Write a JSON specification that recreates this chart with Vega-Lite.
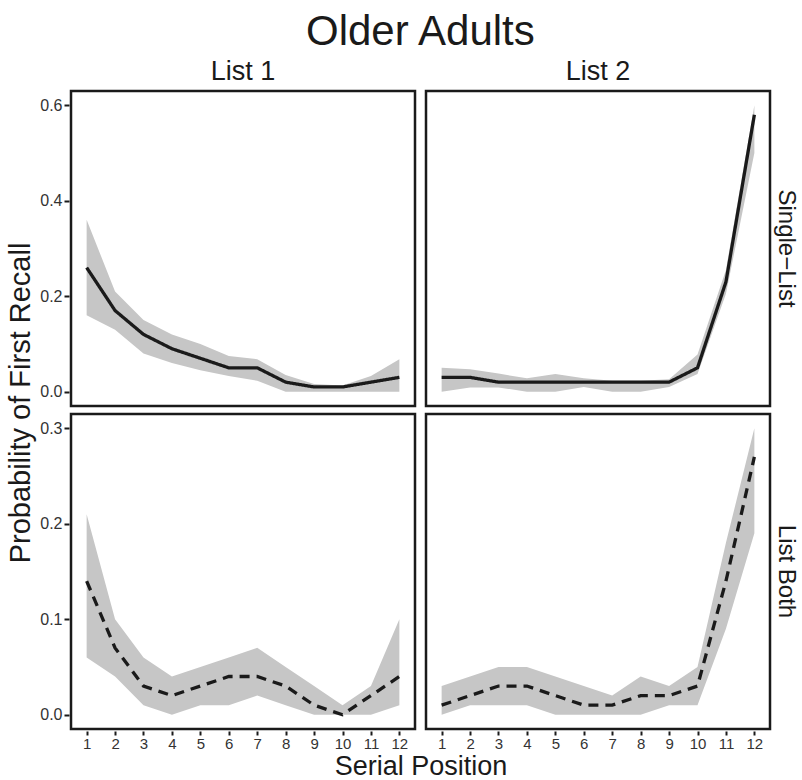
{
  "$schema": "https://vega.github.io/schema/vega-lite/v6.json",
  "background": "white",
  "padding": {"left": 6, "top": 11, "right": 0, "bottom": 0},
  "title": {"text": "Older Adults", "fontSize": 42, "fontWeight": "normal", "color": "#1a1a1a", "anchor": "middle", "offset": 4, "dx": 18},
  "datasets": {"recall": [
    {"list": "List 1", "condition": "Single−List", "pos": 1, "p": 0.26, "lo": 0.16, "hi": 0.36},
    {"list": "List 1", "condition": "Single−List", "pos": 2, "p": 0.17, "lo": 0.13, "hi": 0.21},
    {"list": "List 1", "condition": "Single−List", "pos": 3, "p": 0.12, "lo": 0.08, "hi": 0.15},
    {"list": "List 1", "condition": "Single−List", "pos": 4, "p": 0.09, "lo": 0.06, "hi": 0.12},
    {"list": "List 1", "condition": "Single−List", "pos": 5, "p": 0.07, "lo": 0.045, "hi": 0.1},
    {"list": "List 1", "condition": "Single−List", "pos": 6, "p": 0.05, "lo": 0.033, "hi": 0.075},
    {"list": "List 1", "condition": "Single−List", "pos": 7, "p": 0.05, "lo": 0.023, "hi": 0.068},
    {"list": "List 1", "condition": "Single−List", "pos": 8, "p": 0.02, "lo": 0.0, "hi": 0.035},
    {"list": "List 1", "condition": "Single−List", "pos": 9, "p": 0.01, "lo": 0.0, "hi": 0.016},
    {"list": "List 1", "condition": "Single−List", "pos": 10, "p": 0.01, "lo": 0.0, "hi": 0.013},
    {"list": "List 1", "condition": "Single−List", "pos": 11, "p": 0.02, "lo": 0.0, "hi": 0.033},
    {"list": "List 1", "condition": "Single−List", "pos": 12, "p": 0.03, "lo": 0.0, "hi": 0.068},
    {"list": "List 2", "condition": "Single−List", "pos": 1, "p": 0.03, "lo": 0.0, "hi": 0.05},
    {"list": "List 2", "condition": "Single−List", "pos": 2, "p": 0.03, "lo": 0.009, "hi": 0.047},
    {"list": "List 2", "condition": "Single−List", "pos": 3, "p": 0.02, "lo": 0.009, "hi": 0.038},
    {"list": "List 2", "condition": "Single−List", "pos": 4, "p": 0.02, "lo": 0.0, "hi": 0.028},
    {"list": "List 2", "condition": "Single−List", "pos": 5, "p": 0.02, "lo": 0.0, "hi": 0.037},
    {"list": "List 2", "condition": "Single−List", "pos": 6, "p": 0.02, "lo": 0.01, "hi": 0.028},
    {"list": "List 2", "condition": "Single−List", "pos": 7, "p": 0.02, "lo": 0.0, "hi": 0.023},
    {"list": "List 2", "condition": "Single−List", "pos": 8, "p": 0.02, "lo": 0.0, "hi": 0.023},
    {"list": "List 2", "condition": "Single−List", "pos": 9, "p": 0.02, "lo": 0.01, "hi": 0.026},
    {"list": "List 2", "condition": "Single−List", "pos": 10, "p": 0.05, "lo": 0.037, "hi": 0.078},
    {"list": "List 2", "condition": "Single−List", "pos": 11, "p": 0.23, "lo": 0.205, "hi": 0.255},
    {"list": "List 2", "condition": "Single−List", "pos": 12, "p": 0.58, "lo": 0.5, "hi": 0.6},
    {"list": "List 1", "condition": "List Both", "pos": 1, "p": 0.14, "lo": 0.06, "hi": 0.21},
    {"list": "List 1", "condition": "List Both", "pos": 2, "p": 0.07, "lo": 0.04, "hi": 0.1},
    {"list": "List 1", "condition": "List Both", "pos": 3, "p": 0.03, "lo": 0.01, "hi": 0.06},
    {"list": "List 1", "condition": "List Both", "pos": 4, "p": 0.02, "lo": 0.0, "hi": 0.04},
    {"list": "List 1", "condition": "List Both", "pos": 5, "p": 0.03, "lo": 0.01, "hi": 0.05},
    {"list": "List 1", "condition": "List Both", "pos": 6, "p": 0.04, "lo": 0.01, "hi": 0.06},
    {"list": "List 1", "condition": "List Both", "pos": 7, "p": 0.04, "lo": 0.02, "hi": 0.07},
    {"list": "List 1", "condition": "List Both", "pos": 8, "p": 0.03, "lo": 0.01, "hi": 0.05},
    {"list": "List 1", "condition": "List Both", "pos": 9, "p": 0.01, "lo": 0.0, "hi": 0.03},
    {"list": "List 1", "condition": "List Both", "pos": 10, "p": 0.0, "lo": 0.0, "hi": 0.01},
    {"list": "List 1", "condition": "List Both", "pos": 11, "p": 0.02, "lo": 0.0, "hi": 0.03},
    {"list": "List 1", "condition": "List Both", "pos": 12, "p": 0.04, "lo": 0.01, "hi": 0.1},
    {"list": "List 2", "condition": "List Both", "pos": 1, "p": 0.01, "lo": 0.0, "hi": 0.03},
    {"list": "List 2", "condition": "List Both", "pos": 2, "p": 0.02, "lo": 0.01, "hi": 0.04},
    {"list": "List 2", "condition": "List Both", "pos": 3, "p": 0.03, "lo": 0.01, "hi": 0.05},
    {"list": "List 2", "condition": "List Both", "pos": 4, "p": 0.03, "lo": 0.01, "hi": 0.05},
    {"list": "List 2", "condition": "List Both", "pos": 5, "p": 0.02, "lo": 0.0, "hi": 0.04},
    {"list": "List 2", "condition": "List Both", "pos": 6, "p": 0.01, "lo": 0.0, "hi": 0.03},
    {"list": "List 2", "condition": "List Both", "pos": 7, "p": 0.01, "lo": 0.0, "hi": 0.02},
    {"list": "List 2", "condition": "List Both", "pos": 8, "p": 0.02, "lo": 0.0, "hi": 0.04},
    {"list": "List 2", "condition": "List Both", "pos": 9, "p": 0.02, "lo": 0.01, "hi": 0.03},
    {"list": "List 2", "condition": "List Both", "pos": 10, "p": 0.03, "lo": 0.01, "hi": 0.05},
    {"list": "List 2", "condition": "List Both", "pos": 11, "p": 0.14, "lo": 0.09, "hi": 0.18},
    {"list": "List 2", "condition": "List Both", "pos": 12, "p": 0.27, "lo": 0.19, "hi": 0.3}
  ]},
  "vconcat": [
    {
      "title": {"text": "Probability of First Recall", "orient": "left", "fontSize": 29, "fontWeight": "normal", "color": "#1a1a1a", "anchor": "middle", "offset": 4, "dx": 16},
      "spacing": 4,
      "vconcat": [
        {
          "data": {"name": "recall"},
          "transform": [{"filter": "datum.condition === 'Single−List'"}],
          "facet": {
            "column": {
              "field": "list", "type": "nominal", "sort": ["List 1", "List 2"],
              "header": {"title": null, "labelOrient": "top", "labelFontSize": 27, "labelColor": "#1a1a1a", "labelPadding": 3}
            },
            "row": {
              "field": "condition", "type": "nominal",
              "header": {"title": null, "labelOrient": "right", "labelAngle": 90, "labelFontSize": 24, "labelColor": "#1a1a1a", "labelPadding": 2}
            }
          },
          "spacing": {"column": 7},
          "spec": {
            "width": 344,
            "height": 315,
            "encoding": {
              "x": {
                "field": "pos", "type": "quantitative",
                "scale": {"domain": [0.45, 12.55], "nice": false, "zero": false},
                "axis": null
              }
            },
            "layer": [
              {
                "mark": {"type": "area", "color": "#c6c6c6", "opacity": 1},
                "encoding": {
                  "y": {
                    "field": "lo", "type": "quantitative",
                    "scale": {"nice": false, "zero": false, "padding": 14.3},
                    "axis": {"title": null, "values": [0, 0.2, 0.4, 0.6], "format": ".1f"}
                  },
                  "y2": {"field": "hi"}
                }
              },
              {
                "mark": {"type": "line", "color": "#1a1a1a", "strokeWidth": 3.3},
                "encoding": {
                  "y": {"field": "p", "type": "quantitative"},
                  "strokeDash": {
                    "field": "condition", "type": "nominal",
                    "scale": {"domain": ["Single−List", "List Both"], "range": [[1, 0], [10, 7]]},
                    "legend": null
                  }
                }
              }
            ]
          }
        },
        {
          "data": {"name": "recall"},
          "transform": [{"filter": "datum.condition === 'List Both'"}],
          "facet": {
            "column": {
              "field": "list", "type": "nominal", "sort": ["List 1", "List 2"],
              "header": {"labels": false, "title": "Serial Position", "titleOrient": "bottom", "titleFontSize": 27, "titleFontWeight": "normal", "titleColor": "#1a1a1a", "titlePadding": -7}
            },
            "row": {
              "field": "condition", "type": "nominal",
              "header": {"title": null, "labelOrient": "right", "labelAngle": 90, "labelFontSize": 24, "labelColor": "#1a1a1a", "labelPadding": 2}
            }
          },
          "spacing": {"column": 7},
          "spec": {
            "width": 344,
            "height": 315,
            "encoding": {
              "x": {
                "field": "pos", "type": "quantitative",
                "scale": {"domain": [0.45, 12.55], "nice": false, "zero": false},
                "axis": {"title": null, "values": [1, 2, 3, 4, 5, 6, 7, 8, 9, 10, 11, 12], "labelFontSize": 15, "labelPadding": 1, "tickSize": 4}
              }
            },
            "layer": [
              {
                "mark": {"type": "area", "color": "#c6c6c6", "opacity": 1},
                "encoding": {
                  "y": {
                    "field": "lo", "type": "quantitative",
                    "scale": {"nice": false, "zero": false, "padding": 14.3},
                    "axis": {"title": null, "values": [0, 0.1, 0.2, 0.3], "format": ".1f"}
                  },
                  "y2": {"field": "hi"}
                }
              },
              {
                "mark": {"type": "line", "color": "#1a1a1a", "strokeWidth": 3.3},
                "encoding": {
                  "y": {"field": "p", "type": "quantitative"},
                  "strokeDash": {
                    "field": "condition", "type": "nominal",
                    "scale": {"domain": ["Single−List", "List Both"], "range": [[1, 0], [10, 7]]},
                    "legend": null
                  }
                }
              }
            ]
          }
        }
      ]
    }
  ],
  "config": {
    "font": "Liberation Sans",
    "view": {"stroke": "#1a1a1a", "strokeWidth": 2.5},
    "axis": {
      "domain": false, "grid": false,
      "tickColor": "#1a1a1a", "tickWidth": 2, "tickSize": 5,
      "labelFontSize": 16, "labelColor": "#333333", "labelPadding": 2
    }
  }
}
